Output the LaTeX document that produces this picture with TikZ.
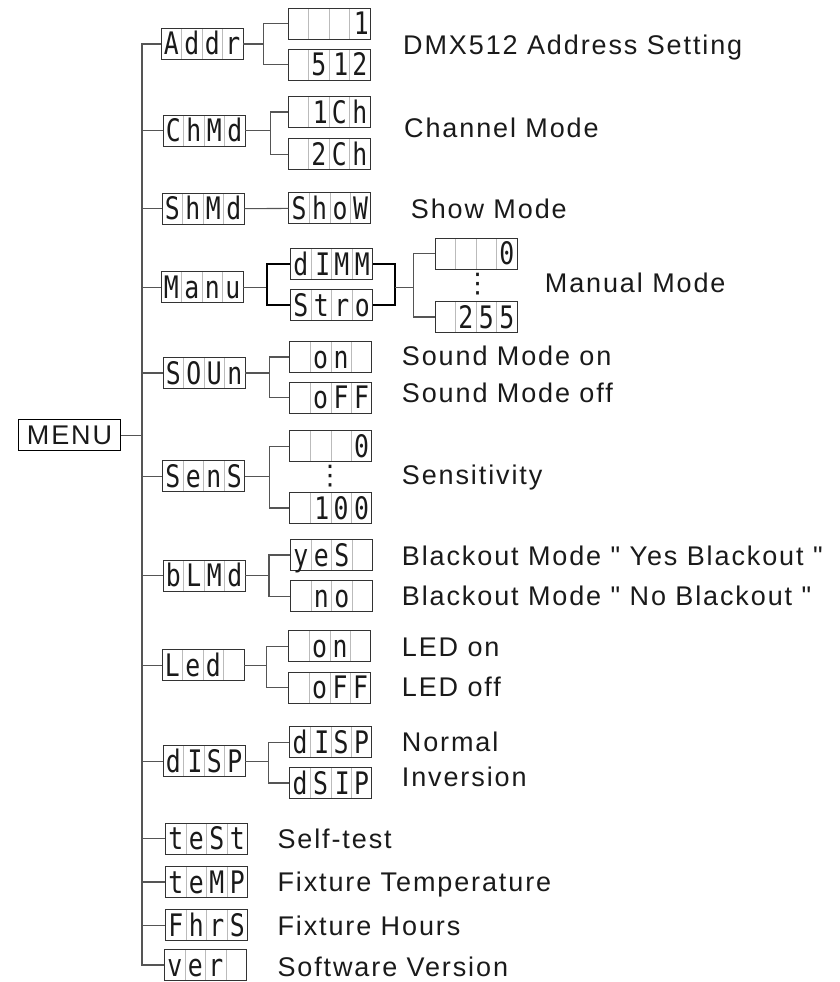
\documentclass[tikz,border=0pt]{standalone}
\usepackage{fontspec}
\setmainfont{Liberation Sans}
\newfontfamily\lblfont{Liberation Sans}[LetterSpace=7]
\newfontfamily\segfont[FakeStretch=0.8]{DejaVu Sans Mono}
\newfontfamily\symfont{DejaVu Sans}
\usetikzlibrary{calc}
\definecolor{linec}{HTML}{555555}
\definecolor{boxc}{HTML}{333333}
\definecolor{divc}{HTML}{BBBBBB}
\definecolor{textc}{HTML}{1A1A1A}
\newcommand\segc[1]{\makebox[20.5pt]{#1}}
\newcommand\segr[1]{\makebox[20.5pt][r]{#1\hspace{1.5pt}}}
\tikzset{
  disp/.style={draw=boxc, line width=0.9pt, minimum width=82pt, minimum height=31pt,
    inner sep=0pt, text height=25pt, text depth=3pt, text=textc,
    font=\segfont\fontsize{31}{31}\selectfont,
    path picture={\foreach \k in {1,2,3}{\draw[divc, line width=0.8pt]
      ($(path picture bounding box.south west)!\k/4!(path picture bounding box.south east)$) --
      ($(path picture bounding box.north west)!\k/4!(path picture bounding box.north east)$);}}},
  menubox/.style={draw=black, line width=1pt, minimum width=102pt, minimum height=31pt,
    inner sep=0pt, text=textc, font=\lblfont\fontsize{27}{30}\selectfont},
  lbl/.style={anchor=base west, inner sep=0pt, text=textc, font=\lblfont\fontsize{27}{30}\selectfont},
  conn/.style={draw=linec, line width=1.1pt},
  thickconn/.style={draw=black, line width=1.8pt},
  vdotsnode/.style={inner sep=0pt, text=textc, font=\symfont\fontsize{27}{27}\selectfont},
}
\begin{document}
\begin{tikzpicture}[x=1pt,y=-1pt]
\useasboundingbox (0,0) rectangle (839,982);
% trunk and branch x positions
\coordinate (T) at (142,0);
\coordinate (bA) at (263.3,0);
\coordinate (bC) at (270.7,0);
\coordinate (bM) at (266.7,0);
\coordinate (rM) at (395,0);
\coordinate (bN) at (413.3,0);
\coordinate (bS) at (269.3,0);
\coordinate (bB) at (269,0);
\coordinate (bL) at (266.7,0);
\coordinate (bD) at (268.3,0);

% MENU
\node[menubox] (menu) at (69.5,435.3) {MENU};

% level 1
\node[disp] (addr) at (202,44) {\segc{A}\segc{d}\segc{d}\segc{r}};
\node[disp] (chmd) at (204,130.7) {\segc{C}\segc{h}\segc{M}\segc{d}};
\node[disp] (shmd) at (203,208.7) {\segc{S}\segc{h}\segc{M}\segc{d}};
\node[disp] (manu) at (202,287.2) {\segc{M}\segc{a}\segc{n}\segc{u}};
\node[disp] (soun) at (204,373) {\segc{S}\segc{O}\segc{U}\segc{n}};
\node[disp] (sens) at (203.5,476.2) {\segc{S}\segc{e}\segc{n}\segc{S}};
\node[disp] (blmd) at (204,575.7) {\segc{b}\segc{L}\segc{M}\segc{d}};
\node[disp] (led) at (203,665.3) {\segc{L}\segc{e}\segc{d}\segc{}};
\node[disp] (disp) at (204,761.3) {\segc{d}\segr{I}\segc{S}\segc{P}};
\node[disp] (test) at (206.5,838.7) {\segc{t}\segc{e}\segc{S}\segc{t}};
\node[disp] (temp) at (206.5,882) {\segc{t}\segc{e}\segc{M}\segc{P}};
\node[disp] (fhrs) at (206.5,925.3) {\segc{F}\segc{h}\segc{r}\segc{S}};
\node[disp] (ver) at (205.5,965) {\segc{v}\segc{e}\segc{r}\segc{}};

% level 2
\node[disp] (a1) at (329.2,23.8) {\segc{}\segc{}\segc{}\segr{1}};
\node[disp] (a2) at (329.2,64.7) {\segc{}\segc{5}\segr{1}\segc{2}};
\node[disp] (c1) at (329.2,112) {\segc{}\segr{1}\segc{C}\segc{h}};
\node[disp] (c2) at (329.2,154.2) {\segc{}\segc{2}\segc{C}\segc{h}};
\node[disp] (show) at (329.9,208.4) {\segc{S}\segc{h}\segc{o}\segc{W}};
\node[disp] (dimm) at (331.7,264.2) {\segc{d}\segr{I}\segc{M}\segc{M}};
\node[disp] (stro) at (331.7,305) {\segc{S}\segc{t}\segc{r}\segc{o}};
\node[disp] (m0) at (476.2,253.8) {\segc{}\segc{}\segc{}\segc{0}};
\node[disp] (m255) at (476.2,317) {\segc{}\segc{2}\segc{5}\segc{5}};
\node[vdotsnode] (mdots) at (477.7,284) {⋮};
\node[disp] (son) at (330.9,357) {\segc{}\segc{o}\segc{n}\segc{}};
\node[disp] (soff) at (330.9,397.5) {\segc{}\segc{o}\segc{F}\segc{F}};
\node[disp] (s0) at (330.9,446.2) {\segc{}\segc{}\segc{}\segc{0}};
\node[disp] (s100) at (330.9,508) {\segc{}\segr{1}\segc{0}\segc{0}};
\node[vdotsnode] (sdots) at (330,476) {⋮};
\node[disp] (byes) at (331.5,555) {\segc{y}\segc{e}\segc{S}\segc{}};
\node[disp] (bno) at (331.5,596.2) {\segc{}\segc{n}\segc{o}\segc{}};
\node[disp] (lon) at (329.9,646.3) {\segc{}\segc{o}\segc{n}\segc{}};
\node[disp] (loff) at (329.9,687.5) {\segc{}\segc{o}\segc{F}\segc{F}};
\node[disp] (d1) at (330.9,742.3) {\segc{d}\segr{I}\segc{S}\segc{P}};
\node[disp] (d2) at (330.9,783) {\segc{d}\segc{S}\segr{I}\segc{P}};

% labels
\node[lbl] (t1) at (403,54.3) {DMX512 Address Setting};
\node[lbl] (t2) at (404,137.3) {Channel Mode};
\node[lbl] (t3) at (410.7,218.3) {Show Mode};
\node[lbl] (t4) at (544.7,292.3) {Manual Mode};
\node[lbl] (t5) at (401.7,365) {Sound Mode on};
\node[lbl] (t6) at (401.7,402.7) {Sound Mode off};
\node[lbl] (t7) at (401.7,484) {Sensitivity};
\node[lbl] (t8) at (401.7,565) {Blackout Mode " Yes Blackout "};
\node[lbl] (t9) at (401.7,605) {Blackout Mode " No Blackout "};
\node[lbl] (t10) at (401.7,656.7) {LED on};
\node[lbl] (t11) at (401.7,696.7) {LED off};
\node[lbl] (t12) at (401.7,751.7) {Normal};
\node[lbl] (t13) at (401.7,786.7) {Inversion};
\node[lbl] (t14) at (277.3,848.3) {Self-test};
\node[lbl] (t15) at (277.3,891.7) {Fixture Temperature};
\node[lbl] (t16) at (277.3,935) {Fixture Hours};
\node[lbl] (t17) at (277.3,976.7) {Software Version};

% trunk
\draw[conn] (menu.east) -- (menu.east -| T);
\draw[conn] (addr.west) -- (addr.west -| T) -- (ver.west -| T) -- (ver.west);
\foreach \n in {chmd,shmd,manu,soun,sens,blmd,led,disp,test,temp,fhrs}
  \draw[conn] (\n.west) -- (\n.west -| T);

% branches
\draw[conn] (addr.east) -- (addr.east -| bA);
\draw[conn] (a1.west) -- (a1.west -| bA) -- (a2.west -| bA) -- (a2.west);
\draw[conn] (chmd.east) -- (chmd.east -| bC);
\draw[conn] (c1.west) -- (c1.west -| bC) -- (c2.west -| bC) -- (c2.west);
\draw[conn] (shmd.east) -- (show.west);
\draw[conn] (manu.east) -- (manu.east -| bM);
\draw[thickconn] (dimm.west) -- (dimm.west -| bM) -- (stro.west -| bM) -- (stro.west);
\draw[thickconn] (dimm.east) -- (dimm.east -| rM) -- (stro.east -| rM) -- (stro.east);
\draw[conn] (manu.east -| rM) -- (manu.east -| bN);
\draw[conn] (m0.west) -- (m0.west -| bN) -- (m255.west -| bN) -- (m255.west);
\draw[conn] (soun.east) -- (soun.east -| bS);
\draw[conn] (son.west) -- (son.west -| bS) -- (soff.west -| bS) -- (soff.west);
\draw[conn] (sens.east) -- (sens.east -| bS);
\draw[conn] (s0.west) -- (s0.west -| bS) -- (s100.west -| bS) -- (s100.west);
\draw[conn] (blmd.east) -- (blmd.east -| bB);
\draw[conn] (byes.west) -- (byes.west -| bB) -- (bno.west -| bB) -- (bno.west);
\draw[conn] (led.east) -- (led.east -| bL);
\draw[conn] (lon.west) -- (lon.west -| bL) -- (loff.west -| bL) -- (loff.west);
\draw[conn] (disp.east) -- (disp.east -| bD);
\draw[conn] (d1.west) -- (d1.west -| bD) -- (d2.west -| bD) -- (d2.west);
\end{tikzpicture}
\end{document}
